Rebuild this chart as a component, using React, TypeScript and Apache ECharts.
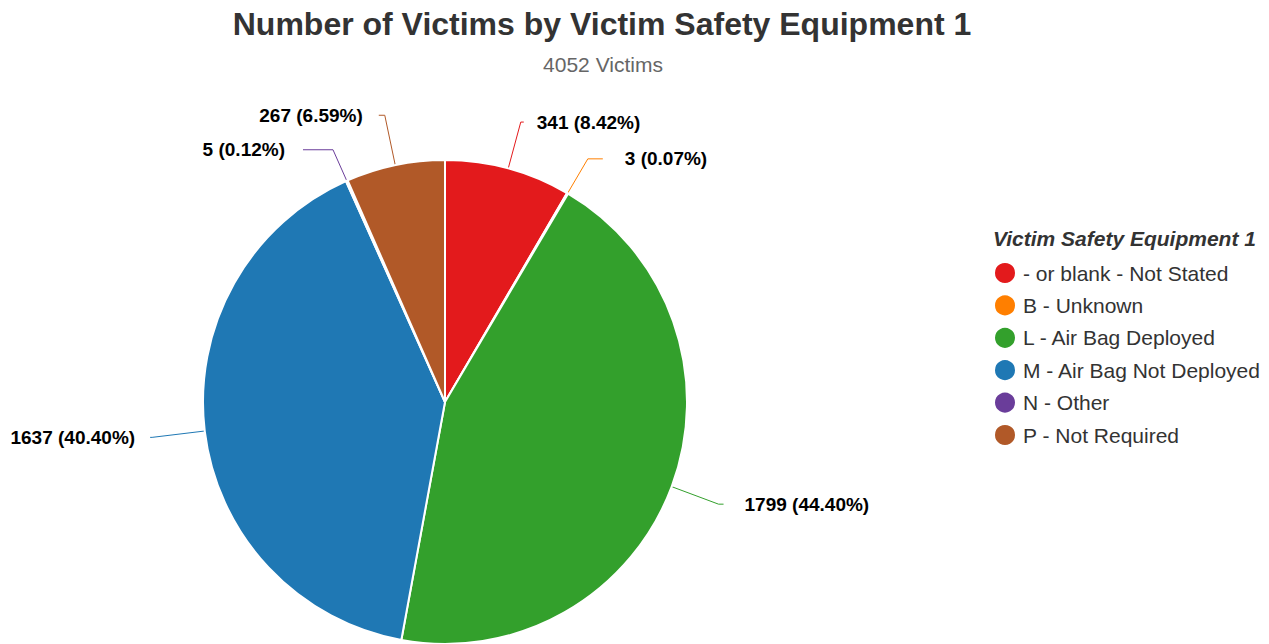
import React, { useEffect, useRef } from "react";
import * as echarts from "echarts";

const categories = [
  "- or blank - Not Stated",
  "B - Unknown",
  "L - Air Bag Deployed",
  "M - Air Bag Not Deployed",
  "N - Other",
  "P - Not Required",
];
const values = [341, 3, 1799, 1637, 5, 267];
const colors = ["#e31a1c", "#ff7f00", "#33a02c", "#1f78b4", "#6a3d9a", "#b15928"];
const titleText = "Number of Victims by Victim Safety Equipment 1";
const subtitleText = "4052 Victims";
const legendTitle = "Victim Safety Equipment 1";

// label connector styling per slice
const lineLen = [48, 40, 50, 53, 34, 51];
const lineLen2 = [3, 15, 5, 2, 30, 6];
const labelGap = [13, 22, 21, 15, 18, 16];

export default function App() {
  const ref = useRef<HTMLDivElement>(null);
  useEffect(() => {
    if (!ref.current) return;
    const chart = echarts.init(ref.current, null, { renderer: "svg" });
    const font = "'Liberation Sans', Arial, Helvetica, sans-serif";
    const total = values.reduce((a, b) => a + b, 0);
    chart.setOption({
      animation: false,
      textStyle: { fontFamily: font },
      title: [
        {
          text: titleText,
          left: 602,
          top: 8,
          padding: 0,
          textAlign: "center",
          textStyle: { fontFamily: font, fontSize: 32, lineHeight: 32, fontWeight: "bold", color: "#333333" },
        },
        {
          text: subtitleText,
          left: 598,
          top: 49,
          textAlign: "center",
          textStyle: { fontFamily: font, fontSize: 21, fontWeight: "normal", color: "#666666" },
        },
        {
          text: legendTitle,
          left: 988,
          top: 223,
          textStyle: { fontFamily: font, fontSize: 21, fontWeight: "bold", fontStyle: "italic", color: "#333333" },
        },
      ],
      legend: {
        orient: "vertical",
        left: 988,
        top: 256,
        icon: "circle",
        itemWidth: 26,
        itemHeight: 22,
        itemGap: 8.4,
        data: categories,
        textStyle: { fontFamily: font, fontSize: 21, color: "#333333" },
      },
      series: [
        {
          type: "pie",
          center: [445, 402],
          radius: 242,
          startAngle: 90,
          clockwise: true,
          avoidLabelOverlap: false,
          itemStyle: { borderColor: "#ffffff", borderWidth: 2 },
          label: {
            show: true,
            position: "outside",
            formatter: (p: any) => `${p.value} (${((p.value / total) * 100).toFixed(2)}%)`,
            fontFamily: font,
            fontSize: 19,
            fontWeight: "bold",
            color: "#000000",
          },
          labelLine: { show: true, lineStyle: { width: 1 } },
          data: categories.map((name, i) => ({
            name,
            value: values[i],
            itemStyle: { color: colors[i] },
            labelLine: { length: lineLen[i], length2: lineLen2[i] },
            label: { distanceToLabelLine: labelGap[i] },
          })),
        },
      ],
    });
    return () => chart.dispose();
  }, []);
  return (
    <div
      ref={ref}
      style={{ position: "absolute", left: 0, top: 0, width: 1269, height: 644 }}
    />
  );
}
